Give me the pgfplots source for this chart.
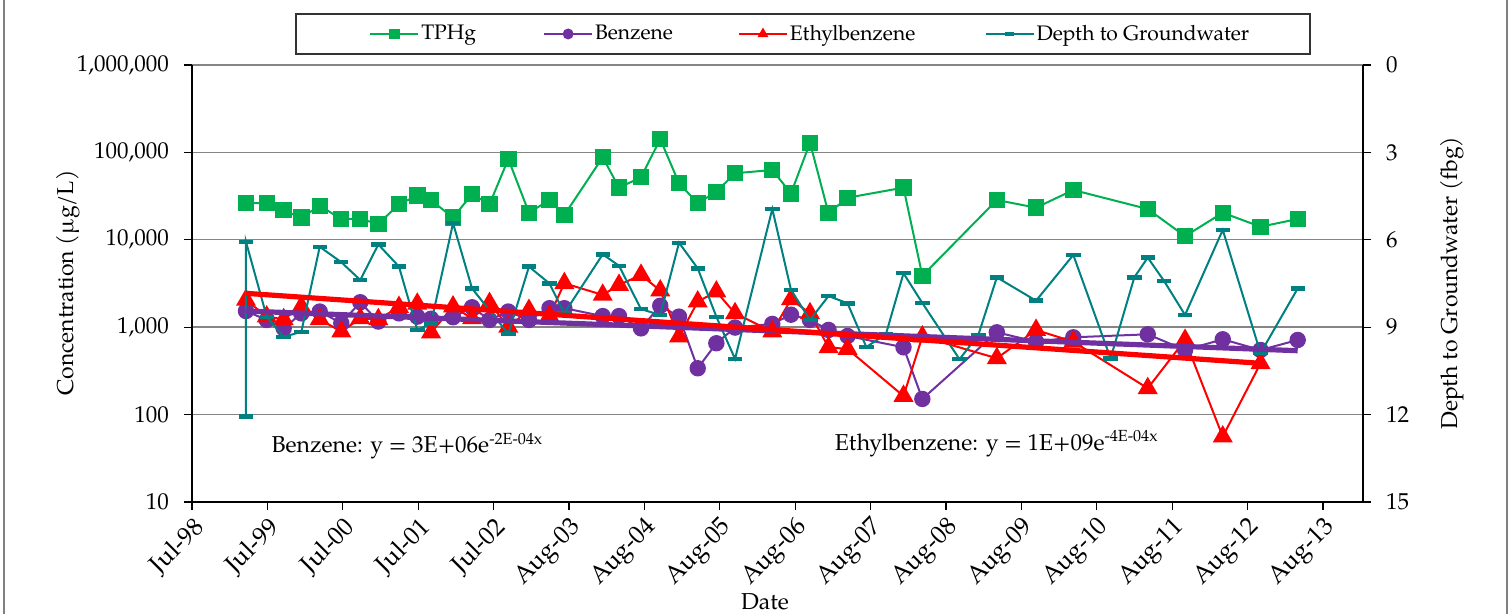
\documentclass[border=0pt]{standalone}
\usepackage{fontspec}
\setmainfont{TeX Gyre Pagella}
\usepackage{pgfplots}
\pgfplotsset{compat=1.18}
\definecolor{tphg}{HTML}{00B050}
\definecolor{benz}{HTML}{7030A0}
\definecolor{ethyl}{HTML}{FF0000}
\definecolor{depthc}{HTML}{008080}
\definecolor{gridc}{HTML}{858585}
\newcommand{\f}{\fontsize{11.5}{13}\selectfont}
\pgfplotsset{
  base/.style={scale only axis, width=585.5pt, height=218.5pt, at={(0pt,0pt)}, anchor=south west,
    xmin=0, xmax=15.53, font=\f, /pgf/number format/assume math mode=true,
    tick align=outside, major tick length=4pt, tick style={black, line width=0.6pt},
    axis line style={black, line width=0.6pt}},
}
\begin{document}
\begin{tikzpicture}
\useasboundingbox (-96pt,-56pt) rectangle (660pt,251pt);
\begin{axis}[base,
  ymode=log, ymin=10, ymax=1000000,
  axis x line*=bottom, axis y line*=left,
  ytick={10,100,1000,10000,100000,1000000},
  yticklabels={10,100,{1,000},{10,000},{100,000},{1,000,000}},
  yminorticks=false, xminorticks=false,
  ymajorgrids, grid style={gridc, line width=0.7pt},
  xtick={0,...,15},
  xticklabels={Jul-98,Jul-99,Jul-00,Jul-01,Jul-02,Aug-03,Aug-04,Aug-05,Aug-06,Aug-07,Aug-08,Aug-09,Aug-10,Aug-11,Aug-12,Aug-13},
  xticklabel style={rotate=45, anchor=east, inner sep=0pt, xshift=-2pt, yshift=-8pt, font=\fontsize{12.5}{14}\selectfont},
  yticklabel style={xshift=-4pt},
  legend columns=4,
  legend style={at={(0.1512,1.071)}, anchor=west, draw=none, fill=none, inner sep=0pt,
    font=\fontsize{10.5}{12}\selectfont, nodes={inner sep=1pt},
    /tikz/every even column/.append style={column sep=0pt}},
  legend cell align=left,
  legend image code/.code={\draw[mark repeat=2,mark phase=2,mark size=2.2pt] plot coordinates {(0cm,0cm)(0.42cm,0cm)(0.84cm,0cm)};},
]
\addplot[tphg, line width=1pt, mark=square*, mark size=3.6pt, mark options={fill=tphg}] coordinates {
(0.716,26200)(0.991,26200)(1.216,21800)(1.450,17900)(1.694,24500)(1.980,17300)(2.232,17300)(2.471,15200)
(2.745,25500)(2.988,32000)(3.170,28500)(3.462,17900)(3.714,33400)(3.946,25500)(4.195,84000)(4.469,20400)
(4.741,28500)(4.938,19200)(5.447,87900)(5.663,39500)(5.955,51900)(6.210,142000)(6.459,44300)(6.707,26200)
(6.954,35500)(7.202,57700)(7.696,62900)(7.944,34000)(8.196,129000)(8.442,20100)(8.694,30300)(9.436,39500)
(9.686,3880)(10.674,28500)(11.194,23300)(11.688,37100)(12.675,22500)(13.170,11000)(13.670,20400)(14.171,14100)
(14.664,17300)};
\addlegendentry{\makebox[60pt][l]{TPHg}}
\addplot[benz, line width=1pt, mark=*, mark size=3.6pt, mark options={fill=benz}] coordinates {
(0.716,1530)(0.991,1210)(1.216,970)(1.450,1440)(1.694,1510)(1.980,1110)(2.232,1930)(2.471,1160)
(2.745,1440)(2.988,1320)(3.170,1250)(3.462,1300)(3.714,1690)(3.946,1210)(4.195,1510)(4.469,1210)
(4.741,1650)(4.938,1650)(5.447,1340)(5.663,1340)(5.955,970)(6.210,1760)(6.459,1320)(6.707,339)
(6.954,655)(7.202,990)(7.696,1090)(7.944,1390)(8.196,1210)(8.442,930)(8.694,793)(9.436,589)
(9.686,151)(10.674,874)(11.194,682)(11.688,766)(12.675,829)(13.170,548)(13.670,727)(14.171,548)
(14.664,714)};
\addlegendentry{\makebox[70.5pt][l]{Benzene}}
\addplot[ethyl, line width=1pt, mark=triangle*, mark size=4.8pt, mark options={fill=ethyl}] coordinates {
(0.716,2050)(0.991,1320)(1.216,1230)(1.450,1720)(1.694,1230)(1.980,889)(2.232,1260)(2.471,1230)
(2.745,1700)(2.988,1850)(3.170,870)(3.462,1720)(3.714,1260)(3.946,1880)(4.195,1010)(4.469,1570)
(4.741,1350)(4.938,3180)(5.447,2340)(5.663,3040)(5.955,3960)(6.210,2620)(6.459,780)(6.707,1960)
(6.954,2550)(7.202,1440)(7.696,889)(7.944,2080)(8.196,1440)(8.442,589)(8.694,563)(9.436,163)
(9.686,780)(10.674,441)(11.194,929)(11.688,682)(12.675,200)(13.170,714)(13.670,56)(14.171,386)};
\addlegendentry{\makebox[96.5pt][l]{Ethylbenzene}}
\addlegendimage{depthc, line width=1pt, mark=-, mark size=3.6pt, mark options={line width=2.2pt}}
\addlegendentry{Depth to Groundwater}
\node[anchor=west, font=\f] at (rel axis cs:0.062,0.128) {Benzene: y = 3E+06e\textsuperscript{-2E-04x}};
\node[anchor=west, font=\f] at (rel axis cs:0.543,0.133) {Ethylbenzene: y = 1E+09e\textsuperscript{-4E-04x}};
\end{axis}
\begin{axis}[base,
  axis x line=none, axis y line*=right,
  ymin=0, ymax=15, y dir=reverse,
  ytick={0,3,6,9,12,15}, yticklabel style={xshift=4pt},
]
\addplot[depthc, line width=1pt, mark=-, mark size=3.6pt, mark options={line width=2.2pt}] coordinates {
(0.716,12.07)(0.716,6.07)(0.991,8.64)(1.216,9.33)(1.450,9.16)(1.694,6.24)(1.980,6.77)(2.232,7.38)
(2.471,6.16)(2.745,6.92)(2.988,9.10)(3.170,8.87)(3.462,5.43)(3.714,7.67)(4.195,9.23)(4.469,6.92)
(4.741,7.50)(4.938,8.52)(5.447,6.50)(5.663,6.89)(5.955,8.38)(6.210,8.58)(6.459,6.10)(6.707,6.98)
(6.954,8.64)(7.202,10.09)(7.696,4.94)(7.944,7.72)(8.196,8.75)(8.442,7.93)(8.694,8.18)(8.943,9.68)
(9.204,9.23)(9.436,7.15)(9.686,8.17)(10.179,10.10)(10.428,9.27)(10.674,7.29)(11.194,8.09)(11.688,6.52)
(12.182,10.07)(12.497,7.29)(12.675,6.61)(12.891,7.41)(13.170,8.58)(13.670,5.66)(14.171,9.89)(14.664,7.67)};
\end{axis}
\begin{axis}[base, hide axis, ymode=log, ymin=10, ymax=1000000]
\addplot[benz, line width=2.6pt] coordinates {(0.716,1530)(14.664,538)};
\addplot[ethyl, line width=2.6pt] coordinates {(0.716,2440)(14.171,386)};
\end{axis}
\draw[line width=0.6pt, black!80] (52pt,224pt) rectangle (559pt,244pt);
\node[font=\f, rotate=90] at (-62pt,109.5pt) {Concentration (µg/L)};
\node[font=\f, rotate=90] at (630pt,109.5pt) {Depth to Groundwater (fbg)};
\node[font=\f] at (286.5pt,-50pt) {Date};
\draw[line width=0.6pt, gray] (-94pt,-60pt) -- (-94pt,255pt);
\draw[line width=0.6pt, gray] (657.5pt,-60pt) -- (657.5pt,255pt);
\end{tikzpicture}
\end{document}
